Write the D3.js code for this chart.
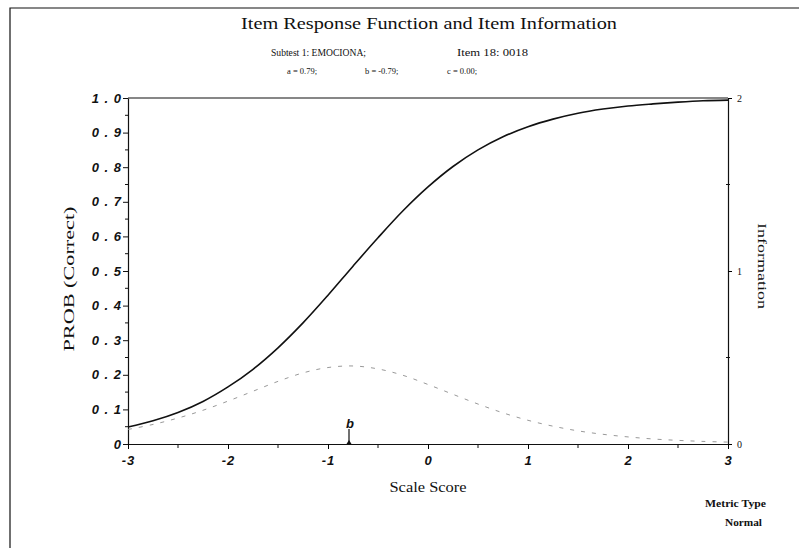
<!DOCTYPE html>
<html><head><meta charset="utf-8">
<script src="https://cdn.jsdelivr.net/npm/d3@7"></script>
<style>
body{margin:0;background:#fff;}
svg{display:block;}
.serif{font-family:"Liberation Serif","DejaVu Serif",serif;fill:#111;}
.tk{font-family:"Liberation Sans","DejaVu Sans",sans-serif;font-weight:bold;font-style:italic;font-size:13px;fill:#111;}
</style></head>
<body>
<svg id="c" width="799" height="550"></svg>
<script>
// Data
const theta = [-3,-2.75,-2.5,-2.25,-2,-1.75,-1.5,-1.25,-1,-0.75,-0.5,-0.25,0,0.25,0.5,0.75,1,1.25,1.5,1.75,2,2.25,2.5,2.75,3];
const prob  = [0.049,0.067,0.091,0.123,0.165,0.216,0.278,0.350,0.430,0.514,0.596,0.674,0.743,0.802,0.850,0.888,0.917,0.939,0.956,0.968,0.977,0.983,0.988,0.992,0.994];
const info  = [0.084,0.113,0.150,0.195,0.248,0.305,0.362,0.411,0.442,0.451,0.434,0.397,0.344,0.287,0.231,0.180,0.137,0.103,0.076,0.056,0.041,0.029,0.021,0.015,0.011];
const bParam = -0.79;
const xTicks = [-3,-2,-1,0,1,2,3];
const yTicks = [0,0.1,0.2,0.3,0.4,0.5,0.6,0.7,0.8,0.9,1.0];
const yTickLabels = ["0","0 . 1","0 . 2","0 . 3","0 . 4","0 . 5","0 . 6","0 . 7","0 . 8","0 . 9","1 . 0"];
const infoTicks = [0,1,2];

const svg = d3.select("#c");
const L=128,R=728,T=98,B=444;
const x = d3.scaleLinear().domain([-3,3]).range([L,R]);
const y = d3.scaleLinear().domain([0,1]).range([B,T]);
const yr = d3.scaleLinear().domain([0,2]).range([B,T]);

// outer frame (top and left visible)
svg.append("path").attr("d","M10,548 L10,8 L799,8").attr("fill","none").attr("stroke","#111").attr("stroke-width",1.2);

// Titles
svg.append("text").attr("class","serif").attr("x",241).attr("y",29).attr("font-size",17)
  .attr("textLength",376).attr("lengthAdjust","spacingAndGlyphs").text("Item Response Function and Item Information");
svg.append("text").attr("class","serif").attr("x",271).attr("y",56).attr("font-size",11)
  .attr("textLength",95).attr("lengthAdjust","spacingAndGlyphs").text("Subtest 1: EMOCIONA;");
svg.append("text").attr("class","serif").attr("x",457).attr("y",56).attr("font-size",11)
  .attr("textLength",71).attr("lengthAdjust","spacingAndGlyphs").text("Item 18: 0018");
svg.append("text").attr("class","serif").attr("x",287).attr("y",74).attr("font-size",8.5).text("a = 0.79;");
svg.append("text").attr("class","serif").attr("x",365).attr("y",74).attr("font-size",8.5).text("b = -0.79;");
svg.append("text").attr("class","serif").attr("x",447).attr("y",74).attr("font-size",8.5).text("c = 0.00;");

// plot box top
svg.append("line").attr("x1",L).attr("x2",R).attr("y1",T).attr("y2",T).attr("stroke","#111").attr("stroke-width",1.2);

// left axis
const gl = svg.append("g").attr("transform",`translate(${L},0)`)
  .call(d3.axisLeft(y).tickValues(yTicks).tickFormat((d,i)=>yTickLabels[i]).tickSize(5).tickPadding(1).tickSizeOuter(0));
gl.selectAll("text").attr("class","tk").attr("letter-spacing",1);
gl.select(".domain").attr("stroke","#111").attr("stroke-width",1.2);
gl.selectAll(".tick line").attr("stroke","#111");
// minor ticks left
svg.append("g").selectAll("line").data(d3.range(0.05,1,0.1)).join("line")
  .attr("x1",L-3).attr("x2",L).attr("y1",d=>y(d)).attr("y2",d=>y(d)).attr("stroke","#111");

// bottom axis
const gb = svg.append("g").attr("transform",`translate(0,${B})`)
  .call(d3.axisBottom(x).tickValues(xTicks).tickFormat(d=>d<0?"-"+Math.abs(d):d).tickSize(5).tickSizeOuter(0));
gb.selectAll("text").attr("class","tk").attr("dy","1em").attr("letter-spacing",1);
gb.select(".domain").attr("stroke","#111").attr("stroke-width",1.2);
svg.append("g").selectAll("line").data([-2.5,-1.5,-0.5,0.5,1.5,2.5]).join("line")
  .attr("x1",d=>x(d)).attr("x2",d=>x(d)).attr("y1",B).attr("y2",B+4).attr("stroke","#111");

// right axis
const gr = svg.append("g").attr("transform",`translate(${R},0)`)
  .call(d3.axisRight(yr).tickValues(infoTicks).tickFormat(d3.format("d")).tickSize(4).tickSizeOuter(0));
gr.selectAll("text").attr("class","serif").attr("font-size",10).attr("dx",2);
gr.select(".domain").attr("stroke","#111").attr("stroke-width",1.2);
svg.append("g").selectAll("line").data([0.5,1.5]).join("line")
  .attr("x1",R-2).attr("x2",R+2).attr("y1",d=>yr(d)).attr("y2",d=>yr(d)).attr("stroke","#111");

// axis labels
svg.append("text").attr("class","serif").attr("font-size",14).attr("text-anchor","middle")
  .attr("transform",`translate(74,279) rotate(-90)`)
  .attr("textLength",145).attr("lengthAdjust","spacingAndGlyphs").text("PROB (Correct)");
svg.append("text").attr("class","serif").attr("font-size",13).attr("text-anchor","middle")
  .attr("transform",`translate(758,266) rotate(90)`)
  .attr("textLength",86).attr("lengthAdjust","spacingAndGlyphs").text("Information");
svg.append("text").attr("class","serif").attr("font-size",14).attr("text-anchor","middle")
  .attr("x",428).attr("y",492).attr("textLength",77).attr("lengthAdjust","spacingAndGlyphs").text("Scale Score");
svg.append("text").attr("class","serif").attr("font-size",11).attr("font-weight","bold")
  .attr("x",705).attr("y",507).attr("textLength",61).attr("lengthAdjust","spacingAndGlyphs").text("Metric Type");
svg.append("text").attr("class","serif").attr("font-size",11).attr("font-weight","bold")
  .attr("x",725).attr("y",526).attr("textLength",37).attr("lengthAdjust","spacingAndGlyphs").text("Normal");

// curves
const pts = theta.map((t,i)=>({t,p:prob[i],inf:info[i]}));
svg.append("path").datum(pts).attr("fill","none").attr("stroke","#999").attr("stroke-width",1)
  .attr("stroke-dasharray","4,7")
  .attr("d",d3.line().x(d=>x(d.t)).y(d=>yr(d.inf)).curve(d3.curveCatmullRom));
svg.append("path").datum(pts).attr("fill","none").attr("stroke","#111").attr("stroke-width",1.6)
  .attr("d",d3.line().x(d=>x(d.t)).y(d=>y(d.p)).curve(d3.curveCatmullRom));

// b marker
svg.append("line").attr("x1",x(bParam)).attr("x2",x(bParam)).attr("y1",B).attr("y2",B-15).attr("stroke","#111").attr("stroke-width",1.2);
svg.append("path").attr("d",`M${x(bParam)-2.5},${B} L${x(bParam)},${B-4} L${x(bParam)+2.5},${B} Z`).attr("fill","#111");
svg.append("text").attr("class","tk").attr("font-weight","normal").attr("x",x(bParam)+1).attr("y",B-16).attr("text-anchor","middle").attr("font-size",14).text("b");
</script>
</body></html>
